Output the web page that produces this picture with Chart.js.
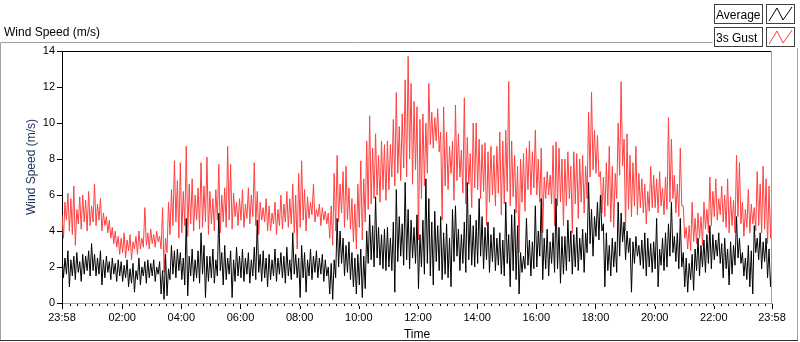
<!DOCTYPE html>
<html>
<head>
<meta charset="utf-8">
<script src="https://cdn.jsdelivr.net/npm/chart.js@4.4.1/dist/chart.umd.min.js"></script>
<style>
    html, body { margin: 0; padding: 0; background: #fff; }
</style>
</head>
<body>
<canvas id="myChart" width="800" height="342"></canvas>
<script>
// waveform: t0 = 23:58 (-2 min), one sample every 3 min, one line per hour
const startMin = -2, stepMin = 3;

const avgSpeed = [
    2.7, 1.4, 2.5, 1.6, 2.9, 0.9, 2.4, 1.5, 2.6, 1.3, 2.8, 1.7, 2.3, 1.2, 2.7, 1.6, 2.6, 1.8, 2.9, 1.5,
    3.3, 1.8, 2.7, 1.5, 2.5, 1.6, 2.9, 1.0, 2.4, 1.4, 2.6, 1.7, 2.3, 1.3, 2.5, 1.6, 2.2, 1.2, 2.4, 1.5,
    2.3, 1.2, 2.1, 1.4, 2.4, 0.9, 1.9, 1.1, 2.2, 0.6, 1.8, 1.3, 2.5, 1.0, 2.0, 1.5, 2.3, 1.1, 2.4, 1.4,
    2.2, 1.5, 2.4, 1.2, 2.0, 1.6, 2.3, 0.5, 1.8, 0.2, 2.7, 0.4, 1.9, 1.3, 3.2, 1.6, 2.9, 1.4, 3.0, 1.8,
    2.8, 1.3, 2.5, 1.0, 4.7, 0.4, 2.6, 1.5, 3.0, 1.2, 2.4, 1.4, 2.9, 1.1, 3.9, 1.6, 3.2, 0.3, 2.6, 1.2,
    2.6, 1.4, 3.0, 1.1, 2.4, 1.5, 5.0, 1.8, 2.8, 1.0, 3.2, 1.3, 2.5, 1.6, 2.9, 0.3, 2.4, 1.2, 3.1, 1.5,
    2.6, 1.4, 3.0, 1.2, 2.5, 1.6, 2.8, 1.1, 2.4, 1.5, 3.1, 1.3, 4.6, 1.7, 2.7, 1.2, 2.9, 1.4, 2.5, 0.9,
    2.7, 1.3, 2.4, 1.5, 3.0, 1.2, 2.5, 1.6, 2.8, 1.4, 2.6, 1.1, 3.1, 1.5, 2.4, 1.3, 3.9, 1.6, 2.7, 1.4,
    2.5, 0.3, 3.2, 1.4, 2.8, 0.6, 2.4, 1.5, 3.0, 1.3, 2.6, 1.7, 2.9, 1.4, 2.5, 1.6, 2.7, 1.2, 2.4, 1.5,
    2.0, 0.5, 2.2, 0.2, 2.4, 1.4, 4.7, 2.0, 4.0, 2.2, 3.6, 1.5, 3.2, 1.7, 3.4, 1.3, 2.8, 0.9, 2.5, 0.5,
    2.7, 1.0, 3.0, 0.3, 2.6, 0.8, 4.0, 2.2, 4.9, 2.4, 4.3, 2.0, 5.9, 2.5, 4.2, 2.1, 3.8, 1.9, 4.1, 1.8,
    4.2, 2.0, 3.6, 1.8, 4.5, 0.6, 6.3, 2.3, 4.8, 2.6, 4.4, 2.1, 6.7, 2.4, 5.2, 1.9, 4.6, 2.5, 4.2, 2.2,
    4.9, 0.8, 3.8, 2.0, 4.6, 1.6, 6.9, 2.2, 5.8, 1.5, 4.5, 1.0, 5.1, 2.3, 4.3, 1.8, 4.8, 1.3, 3.9, 1.6,
    4.4, 1.4, 3.6, 0.9, 5.2, 2.3, 5.4, 2.6, 4.1, 1.8, 3.8, 2.2, 4.5, 1.7, 6.7, 2.4, 4.9, 2.1, 4.3, 2.0,
    4.6, 2.2, 5.8, 2.6, 4.8, 1.9, 4.2, 2.4, 4.5, 1.7, 3.8, 2.3, 4.2, 1.8, 3.6, 2.1, 3.9, 1.6, 3.5, 1.5,
    5.6, 2.2, 3.8, 0.9, 4.9, 1.8, 5.2, 1.3, 4.3, 0.5, 2.8, 1.7, 2.6, 1.9, 4.7, 2.1, 3.5, 1.5, 3.4, 1.9,
    5.4, 2.0, 4.0, 2.6, 5.8, 1.3, 3.6, 1.9, 4.1, 1.5, 3.4, 2.2, 3.9, 1.7, 5.8, 1.9, 4.2, 1.1, 3.7, 1.6,
    3.7, 1.8, 4.6, 2.3, 4.0, 1.6, 3.8, 2.0, 4.2, 1.8, 3.6, 2.4, 4.1, 1.7, 3.9, 2.8, 6.7, 3.3, 5.2, 2.6,
    4.8, 3.7, 5.6, 3.5, 6.0, 4.0, 4.4, 0.9, 3.9, 1.8, 3.2, 1.5, 3.6, 2.0, 3.4, 1.7, 5.6, 2.6, 5.0, 3.4,
    4.5, 2.4, 4.0, 2.8, 3.6, 0.6, 3.4, 2.2, 3.7, 2.6, 3.2, 2.1, 3.5, 1.9, 3.9, 1.5, 3.6, 2.0, 3.3, 1.7,
    3.4, 1.9, 4.7, 0.9, 3.0, 2.1, 3.6, 1.8, 3.9, 2.0, 4.4, 2.6, 5.6, 2.8, 3.7, 2.3, 3.9, 1.9, 4.7, 2.0,
    2.8, 0.9, 2.5, 0.6, 2.2, 1.3, 2.7, 0.7, 3.0, 1.8, 3.6, 1.5, 3.2, 2.0, 3.5, 1.7, 3.8, 2.2, 4.3, 1.9,
    3.8, 2.4, 3.5, 2.6, 3.9, 2.2, 3.3, 1.4, 3.6, 1.9, 3.0, 1.0, 3.4, 1.6, 3.2, 2.1, 4.8, 2.5, 3.6, 2.2,
    2.8, 1.5, 2.5, 1.3, 3.2, 0.9, 2.9, 0.5, 4.3, 2.8, 3.6, 2.4, 3.9, 1.9, 3.4, 2.3, 3.6, 1.4, 3.0, 0.9, 2.2
];

const gustSpeed = [
    4.9, 3.6, 5.6, 4.6, 6.1, 4.0, 5.8, 3.8, 6.5, 3.2, 5.2, 4.4, 5.9, 4.1, 6.0, 4.5, 5.7, 4.0, 6.2, 4.3,
    5.4, 4.5, 6.6, 4.3, 5.5, 4.6, 5.8, 4.0, 5.0, 4.3, 4.8, 3.9, 4.6, 3.6, 4.2, 3.3, 4.0, 3.1, 3.7, 2.7,
    3.6, 2.8, 3.9, 2.5, 3.5, 2.9, 3.8, 2.4, 3.4, 3.0, 3.7, 2.7, 4.0, 3.0, 3.6, 3.1, 5.3, 3.2, 3.9, 3.0,
    4.1, 3.3, 3.8, 3.1, 4.0, 3.4, 3.7, 3.0, 5.3, 1.7, 3.6, 2.8, 5.6, 3.8, 6.3, 4.3, 7.9, 4.5, 6.8, 3.6,
    7.8, 3.9, 6.2, 4.3, 8.7, 3.7, 6.6, 4.4, 6.9, 4.0, 6.0, 4.6, 6.4, 4.1, 7.8, 4.2, 6.5, 4.5, 8.1, 3.8,
    6.2, 4.4, 5.8, 4.0, 6.3, 4.6, 7.7, 3.9, 6.0, 4.5, 6.4, 4.2, 8.7, 4.6, 7.7, 4.1, 6.1, 4.8, 5.6, 4.3,
    5.8, 4.6, 6.3, 4.2, 5.5, 4.7, 6.4, 4.4, 6.0, 4.8, 7.8, 4.3, 6.2, 3.8, 5.6, 4.6, 5.3, 4.5, 5.8, 4.0,
    5.4, 4.0, 5.0, 4.4, 5.6, 3.8, 5.2, 4.3, 6.0, 4.1, 5.5, 4.5, 6.2, 4.2, 5.8, 4.4, 6.6, 3.9, 6.0, 3.0,
    7.2, 4.2, 7.9, 4.6, 6.3, 4.0, 5.9, 4.7, 5.6, 4.9, 6.6, 4.5, 5.2, 4.8, 5.5, 4.3, 5.3, 4.6, 5.1, 4.4,
    5.0, 3.6, 5.4, 3.2, 7.2, 4.0, 8.2, 4.5, 6.6, 5.0, 7.3, 4.2, 7.6, 4.6, 6.4, 4.1, 5.8, 3.4, 5.5, 3.0,
    6.6, 4.2, 7.9, 3.5, 6.9, 4.5, 9.0, 5.2, 10.4, 5.5, 8.6, 5.8, 9.4, 6.0, 8.2, 5.6, 9.0, 6.3, 8.8, 5.7,
    9.0, 6.3, 8.8, 7.0, 10.2, 6.5, 11.7, 7.2, 9.8, 6.8, 10.5, 7.5, 12.4, 7.0, 13.7, 8.0, 12.2, 6.6, 11.2, 7.4,
    10.9, 3.5, 10.2, 5.8, 10.5, 6.5, 10.0, 7.2, 12.2, 8.8, 10.6, 8.6, 10.3, 9.0, 10.8, 8.4, 9.5, 4.6, 10.9, 6.5,
    9.5, 6.3, 8.7, 7.2, 9.0, 5.7, 11.0, 6.8, 9.4, 7.0, 8.5, 6.1, 11.4, 5.5, 9.2, 6.6, 8.3, 5.3, 10.0, 6.4,
    10.0, 6.3, 9.1, 5.8, 8.8, 6.2, 8.9, 4.3, 8.4, 5.6, 8.7, 6.0, 8.2, 5.4, 8.7, 6.1, 9.5, 4.9, 9.0, 5.5,
    9.6, 6.2, 12.3, 5.4, 9.0, 5.9, 8.2, 5.0, 7.6, 2.8, 8.0, 5.6, 8.3, 5.1, 8.6, 6.3, 9.0, 6.0, 8.4, 6.4,
    9.6, 6.0, 8.0, 5.6, 8.6, 3.9, 7.0, 5.8, 7.3, 6.0, 7.1, 5.5, 8.75, 4.3, 8.95, 5.4, 8.6, 5.6, 8.0, 4.3,
    8.0, 5.4, 8.4, 5.8, 7.6, 3.9, 8.4, 5.5, 8.3, 4.7, 8.0, 5.6, 8.2, 5.0, 7.6, 5.8, 10.6, 7.0, 11.7, 7.4,
    9.6, 7.2, 9.3, 7.0, 7.3, 5.0, 7.0, 4.8, 7.8, 5.4, 8.7, 4.5, 7.6, 4.2, 7.2, 5.8, 10.0, 7.1, 12.3, 7.6,
    9.1, 4.0, 9.4, 5.2, 8.2, 4.8, 7.8, 5.4, 8.7, 4.9, 7.2, 5.3, 6.9, 5.0, 6.6, 4.4, 6.2, 5.1, 7.6, 5.3,
    7.1, 5.3, 6.9, 5.0, 7.3, 5.4, 6.4, 4.9, 7.0, 5.2, 10.3, 5.6, 9.1, 5.8, 7.1, 5.0, 6.6, 4.8, 8.6, 5.4,
    5.4, 3.6, 4.2, 3.0, 4.3, 2.9, 5.6, 3.4, 4.7, 3.3, 5.0, 3.6, 4.8, 3.2, 5.6, 4.1, 5.2, 3.9, 7.0, 4.3,
    6.2, 4.8, 6.9, 4.6, 5.8, 4.9, 6.5, 4.5, 6.0, 4.2, 6.9, 3.9, 5.9, 4.3, 5.7, 3.9, 8.2, 4.8, 7.8, 4.4,
    5.6, 3.7, 5.2, 4.2, 6.3, 3.9, 5.5, 4.4, 5.3, 4.0, 7.3, 4.3, 6.6, 3.9, 7.6, 4.1, 6.9, 3.3, 6.5, 3.6, 6.2
];

const tickMinutes = [-2, 120, 240, 360, 480, 600, 720, 840, 960, 1080, 1200, 1320, 1438];
const tickLabels = ['23:58', '02:00', '04:00', '06:00', '08:00', '10:00', '12:00', '14:00', '16:00', '18:00', '20:00', '22:00', '23:58'];
const minorStep = 15;
const yTicks = [0, 2, 4, 6, 8, 10, 12, 14];

const FONT = '"Liberation Sans", Arial, sans-serif';

function toPoints(arr) {
    return arr.map((v, i) => ({x: startMin + i * stepMin, y: v}));
}

// panel frame, titles and legend (LabVIEW style)
const panel = {
    id: 'panel',
    afterDraw(chart) {
        const c = chart.ctx, a = chart.chartArea;
        c.save();
        c.lineWidth = 1;

        // outer panel
        c.strokeStyle = '#a0a0a0';
        c.beginPath();
        c.moveTo(0.5, 341); c.lineTo(0.5, 42.5); c.lineTo(712.5, 42.5);
        c.moveTo(797.5, 48); c.lineTo(797.5, 341);
        c.stroke();
        c.strokeStyle = '#303030';
        c.beginPath();
        c.moveTo(0, 340.5); c.lineTo(798, 340.5);
        c.stroke();

        // plot frame top / right
        c.strokeStyle = '#000';
        c.beginPath();
        c.moveTo(a.left, a.top + 0.5); c.lineTo(a.right, a.top + 0.5);
        c.stroke();
        c.strokeStyle = '#a0a0a0';
        c.beginPath();
        c.moveTo(a.right - 0.5, a.top); c.lineTo(a.right - 0.5, a.bottom + 1);
        c.stroke();

        // longer major ticks on x
        const xs = chart.scales.x;
        c.strokeStyle = '#000';
        c.beginPath();
        tickMinutes.forEach(m => {
            const px = Math.round(xs.getPixelForValue(m)) + 0.5;
            c.moveTo(px, a.bottom + 3); c.lineTo(px, a.bottom + 6);
        });
        c.stroke();

        // titles
        c.fillStyle = '#000';
        c.font = '12px ' + FONT;
        c.textBaseline = 'alphabetic';
        c.textAlign = 'left';
        c.fillText('Wind Speed (m/s)', 4, 36);
        c.textAlign = 'center';
        c.fillText('Time', (a.left + a.right) / 2, 338);
        c.save();
        c.translate(35, 167);
        c.rotate(-Math.PI / 2);
        c.fillStyle = '#1c2f5a';
        c.fillText('Wind Speed (m/s)', 0, 0);
        c.restore();

        // legend
        const items = [{label: 'Average', color: '#000', y: 4}, {label: '3s Gust', color: '#ff4040', y: 27}];
        items.forEach(it => {
            c.fillStyle = '#fff';
            c.fillRect(715, it.y, 48, 19);
            c.fillRect(767, it.y, 28, 19);
            c.strokeStyle = '#404040';
            c.strokeRect(714.5, it.y + 0.5, 48, 19);
            c.strokeRect(766.5, it.y + 0.5, 28, 19);
            c.fillStyle = '#000';
            c.textAlign = 'left';
            c.fillText(it.label, 716, it.y + 15);
            c.strokeStyle = it.color;
            c.beginPath();
            c.moveTo(769, it.y + 17); c.lineTo(777, it.y + 4); c.lineTo(783, it.y + 16); c.lineTo(792, it.y + 3);
            c.stroke();
        });
        c.restore();
    }
};

const ctx = document.getElementById('myChart');
const myChart = new Chart(ctx, {
    type: 'line',
    data: {
        datasets: [
            {
                label: 'Average',
                data: toPoints(avgSpeed),
                borderColor: '#000000',
                borderWidth: 1,
                pointRadius: 0,
                tension: 0
            },
            {
                label: '3s Gust',
                data: toPoints(gustSpeed),
                borderColor: '#ff4040',
                borderWidth: 1,
                pointRadius: 0,
                tension: 0
            }
        ]
    },
    options: {
        responsive: false,
        animation: false,
        devicePixelRatio: 1,
        layout: {padding: {top: 51, right: 28, bottom: 0, left: 0}},
        plugins: {legend: {display: false}, tooltip: {enabled: false}},
        scales: {
            x: {
                type: 'linear',
                min: tickMinutes[0],
                max: tickMinutes[tickMinutes.length - 1],
                afterFit: s => { s.height = 39; },
                afterBuildTicks: s => {
                    const t = [];
                    for (let m = minorStep; m < tickMinutes[tickMinutes.length - 1]; m += minorStep) t.push(m);
                    tickMinutes.forEach(m => { if (t.indexOf(m) < 0) t.push(m); });
                    t.sort((p, q) => p - q);
                    s.ticks = t.map(v => ({value: v}));
                },
                ticks: {
                    autoSkip: false,
                    maxRotation: 0,
                    padding: 5,
                    color: '#000',
                    font: {family: FONT, size: 11},
                    callback: v => {
                        const k = tickMinutes.indexOf(v);
                        return k >= 0 ? tickLabels[k] : '';
                    }
                },
                grid: {drawOnChartArea: false, tickLength: 3, tickColor: '#000'},
                border: {color: '#a0a0a0'}
            },
            y: {
                min: 0,
                max: 14,
                afterFit: s => { s.width = 62; },
                afterBuildTicks: s => { s.ticks = yTicks.map(v => ({value: v})); },
                ticks: {padding: 2, color: '#000', font: {family: FONT, size: 11}},
                grid: {drawOnChartArea: false, tickLength: 5, tickColor: '#000'},
                border: {color: '#000'}
            }
        }
    },
    plugins: [panel]
});
</script>
</body>
</html>
